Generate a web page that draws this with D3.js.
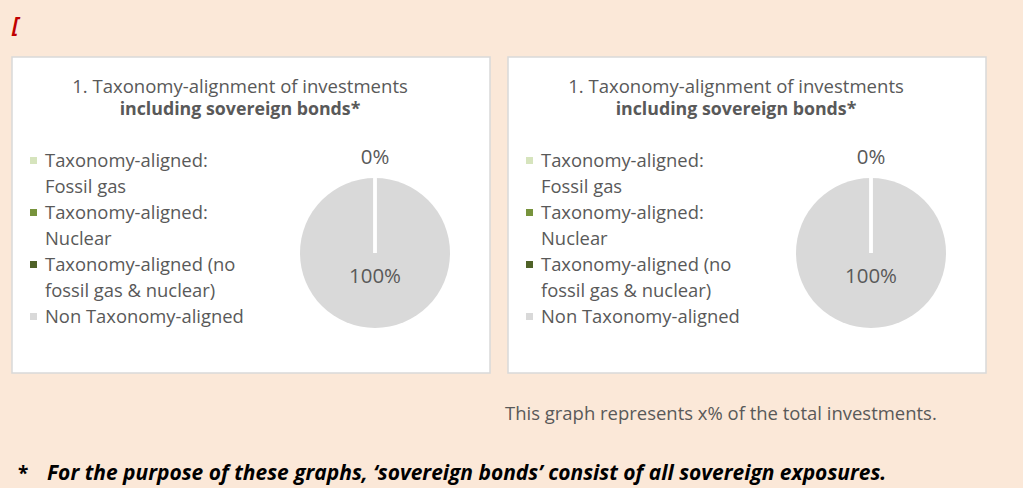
<html>
<head>
<script src="https://d3js.org/d3.v7.min.js"></script>
<style>
  body { margin: 0; background: #fbe8d8; }
  svg { display: block; }
  text { font-family: "Open Sans", sans-serif; }
</style>
</head>
<body>
<svg id="chart" width="1023" height="488"></svg>
<script>

// data
var categories = ["Taxonomy-aligned: Fossil gas", "Taxonomy-aligned: Nuclear",
                  "Taxonomy-aligned (no fossil gas & nuclear)", "Non Taxonomy-aligned"];
var legendLines = [["Taxonomy-aligned:", "Fossil gas"], ["Taxonomy-aligned:", "Nuclear"],
                   ["Taxonomy-aligned (no", "fossil gas & nuclear)"], ["Non Taxonomy-aligned"]];
var valuesChart1 = [0, 0, 0, 100];
var valuesChart2 = [0, 0, 0, 100];
var chartTitles = [["1. Taxonomy-alignment of investments", "including sovereign bonds*"],
                   ["1. Taxonomy-alignment of investments", "including sovereign bonds*"]];
var footText = "This graph represents x% of the total investments.";
var noteText = "For the purpose of these graphs, \u2018sovereign bonds\u2019 consist of all sovereign exposures.";

var colors = d3.scaleOrdinal()
    .domain(categories)
    .range(["#d6e4bd", "#77933c", "#4f6228", "#d9d9d9"]);

var svg = d3.select("#chart");
var textColor = "#595959";

// font size that makes a text as wide as in the reference
function fitSize(sel, w) {
    sel.style("font-size", "20px");
    var len = sel.node().getComputedTextLength();
    var s = 20 * w / len;
    sel.style("font-size", s + "px");
    return s;
}

svg.append("rect").attr("width", 1020).attr("height", 488).attr("fill", "#fbe8d8");

// the red bracket top left
svg.append("text")
    .attr("x", 12).attr("y", 32)
    .style("font-size", "21px").style("font-style", "italic").style("font-weight", "bold")
    .attr("fill", "#c00000")
    .text("[");

function drawPanel(x0, values, title) {
    var g = svg.append("g").attr("transform", "translate(" + x0 + ",57)");

    g.append("rect")
        .attr("width", 478).attr("height", 316)
        .attr("fill", "white")
        .attr("stroke", "#d9d9d9").attr("stroke-width", 1.5);

    // title
    var t1 = g.append("text").attr("x", 228).attr("y", 36)
        .attr("text-anchor", "middle").attr("fill", textColor)
        .text(title[0]);
    fitSize(t1, 336);
    var t2 = g.append("text").attr("x", 228).attr("y", 58)
        .attr("text-anchor", "middle").attr("fill", textColor)
        .style("font-weight", "bold")
        .text(title[1]);
    fitSize(t2, 241);

    // legend
    var lineH = 26;
    var probe = g.append("text").text("Non Taxonomy-aligned");
    var legSize = fitSize(probe, 199);
    probe.remove();

    var row = 0;
    legendLines.forEach(function(lines, i) {
        var y = 110 + row * lineH;
        g.append("rect")
            .attr("x", 18).attr("y", y - 10)
            .attr("width", 7).attr("height", 7)
            .attr("fill", colors(categories[i]));
        lines.forEach(function(l, j) {
            g.append("text")
                .attr("x", 33).attr("y", y + j * lineH)
                .attr("fill", textColor)
                .style("font-size", legSize + "px")
                .text(l);
        });
        row += lines.length;
    });

    // pie
    var r = 75;
    var cx = 363, cy = 196;
    var pie = d3.pie().sort(null).value(function(d) { return d; });
    var arc = d3.arc().innerRadius(0).outerRadius(r);
    var labelIn = d3.arc().innerRadius(r * 0.3).outerRadius(r * 0.3);
    var labelOut = d3.arc().innerRadius(r + 21).outerRadius(r + 21);

    var pg = g.append("g").attr("transform", "translate(" + cx + "," + cy + ")");
    var slices = pie(values);

    pg.selectAll("path")
        .data(slices)
        .enter().append("path")
        .attr("d", arc)
        .attr("fill", function(d, i) { return colors(categories[i]); });

    // white slice borders (radial edges)
    pg.selectAll("line.sep")
        .data(slices)
        .enter().append("line")
        .attr("class", "sep")
        .attr("x1", 0).attr("y1", 0)
        .attr("x2", function(d) { return r * Math.sin(d.startAngle); })
        .attr("y2", function(d) { return -r * Math.cos(d.startAngle); })
        .attr("stroke", "white")
        .attr("stroke-width", 3);

    // one label per position (the zero slices overlap)
    var seen = {};
    var labelled = slices.filter(function(d) {
        var k = d.value == 0 ? "out" + d.startAngle : "in" + d.index;
        if (seen[k]) return false;
        seen[k] = true;
        return true;
    });

    var probe2 = g.append("text").text("100%");
    var lblSize = fitSize(probe2, 52);
    probe2.remove();

    pg.selectAll("text.lbl")
        .data(labelled)
        .enter().append("text")
        .attr("class", "lbl")
        .attr("transform", function(d) {
            var a = d.value == 0 ? labelOut : labelIn;
            return "translate(" + a.centroid(d) + ")";
        })
        .attr("dy", "0.35em")
        .attr("text-anchor", "middle")
        .attr("fill", textColor)
        .style("font-size", lblSize + "px")
        .text(function(d) { return d.value + "%"; });
}

drawPanel(12, valuesChart1, chartTitles[0]);
drawPanel(508, valuesChart2, chartTitles[1]);

var foot = svg.append("text")
    .attr("x", 505).attr("y", 420)
    .attr("fill", textColor)
    .text(footText);
fitSize(foot, 432);

svg.append("text")
    .attr("x", 18).attr("y", 480)
    .attr("fill", "black")
    .style("font-size", "19px").style("font-weight", "bold")
    .text("*");
var note = svg.append("text")
    .attr("x", 47).attr("y", 480)
    .attr("fill", "black")
    .style("font-weight", "bold").style("font-style", "italic")
    .text(noteText);
fitSize(note, 840);

</script>
</body>
</html>
